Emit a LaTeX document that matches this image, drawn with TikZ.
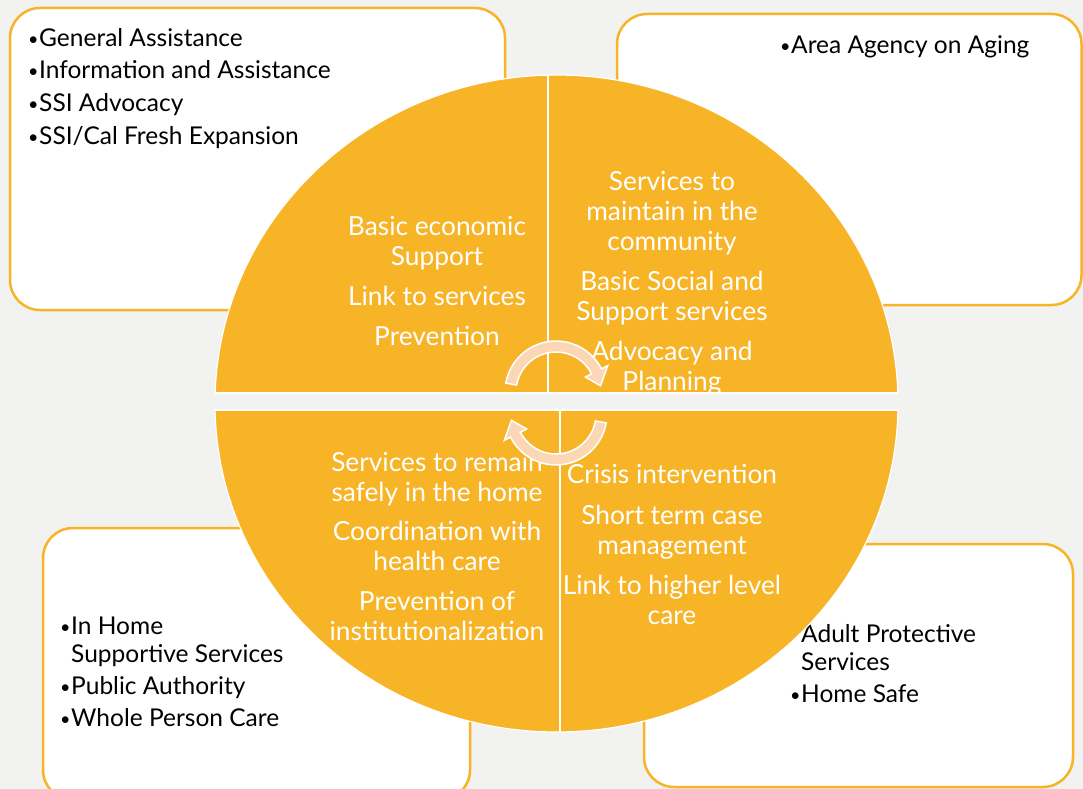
\documentclass[tikz,border=0pt]{standalone}
\usepackage{fontspec}
\setmainfont{Lato}
\definecolor{wheel}{HTML}{F7B427}
\definecolor{peach}{HTML}{FBD7B5}
\definecolor{backdrop}{HTML}{F2F2F0}
\newcommand{\bul}{\makebox[11bp][l]{\raisebox{1bp}{\fontsize{18}{18}\selectfont\textbullet}}}
\newcommand{\nobul}{\hspace*{11bp}}
\begin{document}
\begin{tikzpicture}
  [x=1bp, y=-1bp,
   infobox/.style={draw=wheel, fill=white, line width=2.5bp, rounded corners=30bp},
   quarter/.style={fill=wheel, draw=white, line width=1.5bp},
   wheeltext/.style={text=white, align=center, anchor=base, inner sep=0pt,
                     font=\fontsize{26.4}{30}\selectfont},
   listtext/.style={text=black, align=left, anchor=base west, inner sep=0pt,
                    font=\fontsize{24.6}{28}\selectfont},
   turn/.style={fill=peach, draw=white, line width=1.5bp}]
  \useasboundingbox (0,0) rectangle (1083,789);
  \fill[backdrop] (0,0) rectangle (1083,789);

  % corner boxes
  \draw[infobox] (10,8) rectangle (505,310);
  \draw[infobox] (617,14) rectangle (1081.5,305);
  \draw[infobox] (43,528) rectangle (470,800);
  \draw[infobox] (644,544) rectangle (1073,787);

  \node (economy) [listtext] at (28,144)
    {\bul General Assistance\\[4.7bp] \bul Information and Assistance\\[4.7bp]
     \bul SSI Advocacy\\[4.7bp] \bul SSI/Cal Fresh Expansion};
  \node (aging) [listtext] at (780,54) {\bul Area Agency on Aging};
  \node (homecare) [listtext] at (60,726)
    {\bul In Home\\ \nobul Supportive Services\\[4bp] \bul Public Authority\\[4bp]
     \bul Whole Person Care};
  \node (protective) [listtext] at (790,702)
    {\nobul Adult Protective\\ \nobul Services\\[4bp] \bul Home Safe};

  % the wheel
  \begin{scope}
    \clip (556.5,403.5) ellipse [x radius=341.5, y radius=328.5];
    \filldraw[quarter] (180,40) rectangle (548,393);
    \filldraw[quarter] (548,40) rectangle (930,393);
    \filldraw[quarter] (180,410) rectangle (560,770);
    \filldraw[quarter] (560,410) rectangle (930,770);
  \end{scope}
  \begin{scope}
    \clip (0,0) rectangle (1083,393) (0,410) rectangle (1083,789);
    \draw[white, line width=1.2bp] (556.5,403.5) ellipse [x radius=341.5, y radius=328.5];
  \end{scope}

  \node (support) [wheeltext] at (437,345)
    {Basic economic\\ Support\\[10bp] Link to services\\[10bp] Prevention};
  \begin{scope}
    \clip (548,40) rectangle (930,392);
    \node (community) [wheeltext] at (672,390)
      {Services to\\ maintain in the\\ community\\[10bp] Basic Social and\\ Support services\\[10bp]
       Advocacy and\\ Planning};
  \end{scope}
  \node (home) [wheeltext] at (437,640)
    {Services to remain\\ safely in the home\\[9bp] Coordination with\\ health care\\[10bp]
     Prevention of\\ institutionalization};
  \node (crisis) [wheeltext] at (672,624)
    {Crisis intervention\\[11bp] Short term case\\ management\\[10bp] Link to higher level\\ care};

  % turning arrows in the middle
  \draw[turn, shift={(556,392)}]
    (-170:51) arc[start angle=-170, end angle=-27, radius=51] -- (-27:58) -- (-8:45)
    -- (-27:33) -- (-27:40) arc[start angle=-27, end angle=-170, radius=40] -- cycle;
  \draw[turn, shift={(556,414)}, rotate=180]
    (-170:51) arc[start angle=-170, end angle=-27, radius=51] -- (-27:58) -- (-8:45)
    -- (-27:33) -- (-27:40) arc[start angle=-27, end angle=-170, radius=40] -- cycle;
\end{tikzpicture}
\end{document}
